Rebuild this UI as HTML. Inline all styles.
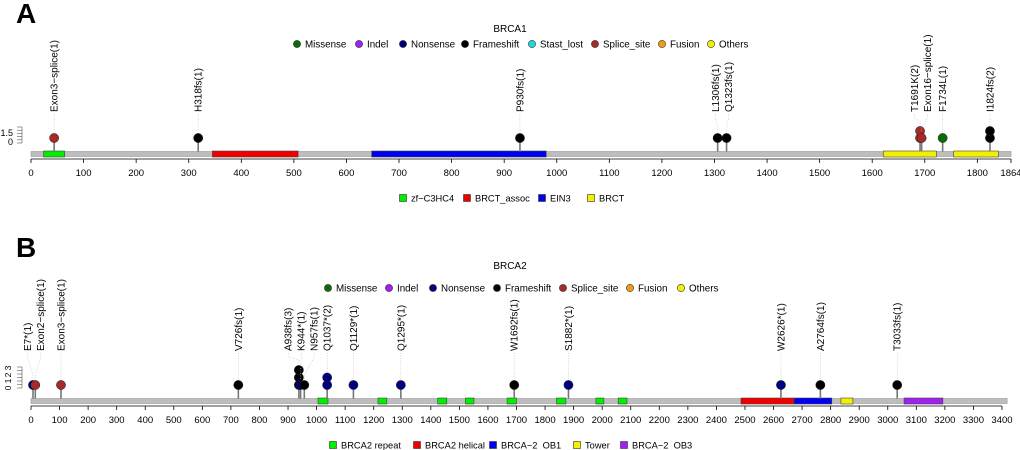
<!DOCTYPE html>
<html><head><meta charset="utf-8"><style>
html,body{margin:0;padding:0;background:#fff;}
svg{display:block;font-family:"Liberation Sans",Arial,sans-serif;}
</style></head><body>
<svg id="chart" width="1020" height="450" viewBox="0 0 1020 450"></svg>
<script>
// ---- Panel A data (BRCA1) ----
const aLength = 1864;
const aTicks = [0,100,200,300,400,500,600,700,800,900,1000,1100,1200,1300,1400,1500,1600,1700,1800,1864];
const aMutPos = [44,318,930,1306,1323,1691,1694,1734,1824];
const aMutCount = [1,1,1,1,1,2,1,1,2];
const aMutType = ["Splice_site","Frameshift","Frameshift","Frameshift","Frameshift","Splice_site","Splice_site","Missense","Frameshift"];
const aMutLabel = ["Exon3\u2212splice(1)","H318fs(1)","P930fs(1)","L1306fs(1)","Q1323fs(1)","T1691K(2)","Exon16\u2212splice(1)","F1734L(1)","I1824fs(2)"];
const aDomStart = [24,345,648,1621,1755];
const aDomEnd = [64,508,980,1722,1840];
const aDomName = ["zf-C3HC4","BRCT_assoc","EIN3","BRCT","BRCT"];
const aLegendTypes = ["Missense","Indel","Nonsense","Frameshift","Stast_lost","Splice_site","Fusion","Others"];
const aDomLegend = ["zf\u2212C3HC4","BRCT_assoc","EIN3","BRCT"];
// ---- Panel B data (BRCA2) ----
const bLength = 3418;
const bTicks = [0,100,200,300,400,500,600,700,800,900,1000,1100,1200,1300,1400,1500,1600,1700,1800,1900,2000,2100,2200,2300,2400,2500,2600,2700,2800,2900,3000,3100,3200,3300,3400];
const bMutPos = [7,15,105,726,938,944,957,1037,1129,1295,1692,1882,2626,2764,3033];
const bMutCount = [1,1,1,1,3,1,1,2,1,1,1,1,1,1,1];
const bMutType = ["Nonsense","Splice_site","Splice_site","Frameshift","Frameshift","Nonsense","Frameshift","Nonsense","Nonsense","Nonsense","Frameshift","Nonsense","Nonsense","Frameshift","Frameshift"];
const bMutLabel = ["E7*(1)","Exon2\u2212splice(1)","Exon3\u2212splice(1)","V726fs(1)","A938fs(3)","K944*(1)","N957fs(1)","Q1037*(2)","Q1129*(1)","Q1295*(1)","W1692fs(1)","S1882*(1)","W2626*(1)","A2764fs(1)","T3033fs(1)"];
const bDomStart = [1005,1215,1424,1521,1667,1840,1978,2056,2486,2672,2836,3057];
const bDomEnd = [1040,1246,1456,1551,1700,1873,2006,2087,2672,2804,2878,3193];
const bDomName = ["BRCA2 repeat","BRCA2 repeat","BRCA2 repeat","BRCA2 repeat","BRCA2 repeat","BRCA2 repeat","BRCA2 repeat","BRCA2 repeat","BRCA2 helical","BRCA-2_OB1","Tower","BRCA-2_OB3"];
const bLegendTypes = ["Missense","Indel","Nonsense","Frameshift","Splice_site","Fusion","Others"];
const bDomLegend = ["BRCA2 repeat","BRCA2 helical","BRCA\u22122_OB1","Tower","BRCA\u22122_OB3"];

const typeColor = {Missense:"#0b6b0b",Indel:"#a020f0",Nonsense:"#00007f",Frameshift:"#000000",Stast_lost:"#22d8d8",Splice_site:"#a52a2a",Fusion:"#f39c12",Others:"#f5f000"};
const domColor = {"zf-C3HC4":"#00ee00","BRCT_assoc":"#ee0000","EIN3":"#0000ee","BRCT":"#f0f000","BRCA2 repeat":"#00ee00","BRCA2 helical":"#ee0000","BRCA-2_OB1":"#0000ee","Tower":"#f0f000","BRCA-2_OB3":"#a020f0"};
const domLegColor = ["#00ee00","#ee0000","#0000ee","#f0f000","#a020f0"];

const NS="http://www.w3.org/2000/svg";
const svg=document.getElementById('chart');
function mk(tag,attrs,parent,text){const e=document.createElementNS(NS,tag);for(const k in attrs)e.setAttribute(k,attrs[k]);if(text!==undefined)e.textContent=text;(parent||svg).appendChild(e);return e;}

function drawPanel(o){
  const g=mk('g',{});
  
  
  const x=v=>o.x0+(v/o.tickMax)*(o.x1-o.x0);
  const L=mk('text',{x:16,y:o.letterY,'font-size':28,'font-weight':'bold'},g,o.letter);
  
  
  const t=mk('text',{x:510,y:o.titleY,'font-size':10,'text-anchor':'middle'},g,o.title);
  
  
  o.legendTypes.forEach((ty,i)=>{
    const lg=mk('g',{},g);
    
    
    mk('circle',{cx:o.legendX[i],cy:o.legendY,r:3.6,fill:typeColor[ty],stroke:'#333','stroke-width':0.6},lg);
    mk('text',{x:o.legendX[i]+8,y:o.legendY+3.5,'font-size':9.8},lg,ty);
  });
  const bb=mk('rect',{x:x(0),y:o.bbY-2.5,width:x(o.length)-x(0),height:5,fill:'#bdbdbd',stroke:'#999','stroke-width':0.6},g);
  
  
  const ay=o.bbY+5;
  mk('line',{x1:x(0),x2:x(o.ticks[o.ticks.length-1]),y1:ay,y2:ay,stroke:'#000','stroke-width':0.8},g);
  o.ticks.forEach(v=>{
    mk('line',{x1:x(v),x2:x(v),y1:ay,y2:ay+4,stroke:'#000','stroke-width':0.8},g);
    const tl=mk('text',{x:x(v),y:ay+17,'font-size':9.5,'text-anchor':'middle'},g,String(v));
    
    
  });
  o.domStart.forEach((s,i)=>{
    const d=mk('rect',{x:x(s),y:o.bbY-3,width:x(o.domEnd[i])-x(s),height:6,fill:domColor[o.domName[i]],stroke:'#444','stroke-width':0.6},g);
    
    
  });
  for(let k=0;k<=o.ladderN;k++){const yy=o.ladderTop+k*(o.ladderBot-o.ladderTop)/o.ladderN;mk('line',{x1:17,x2:22,y1:yy,y2:yy,stroke:'#555','stroke-width':0.6},g);}
  mk('line',{x1:22,x2:22,y1:o.ladderTop,y2:o.ladderBot,stroke:'#555','stroke-width':0.6},g);
  o.yLabels.forEach(l=>{
    if(o.rotY) mk('text',{x:l[0],y:l[1],'font-size':8.5,'text-anchor':'middle',transform:`rotate(-90 ${l[0]} ${l[1]})`},g,l[2]);
    else mk('text',{x:l[0],y:l[1],'font-size':9,'text-anchor':'end'},g,l[2]);
  });
  const px=o.mutPos.map(p=>x(p));
  const lx=px.slice();const gap=13;
  for(let it=0;it<200;it++){for(let i=1;i<lx.length;i++){const d=lx[i]-lx[i-1];if(d<gap){const s=(gap-d)/2;lx[i-1]-=s;lx[i]+=s;}}}
  o.mutPos.forEach((p,i)=>{
    const mg=mk('g',{},g);
    
    
    const topY=o.headY-(o.mutCount[i]-1)*o.stackDy;
    mk('line',{x1:px[i],x2:px[i],y1:o.bbY-2.5,y2:o.headY,stroke:'#777','stroke-width':1.6},mg);
    mk('polyline',{points:`${lx[i]},${o.labelY+2} ${lx[i]},${o.labelY+6} ${px[i]},${topY-10} ${px[i]},${topY-6}`,fill:'none',stroke:'#bbb','stroke-width':0.6,'stroke-dasharray':'1,1.5'},mg);
    for(let k=0;k<o.mutCount[i];k++){
      mk('circle',{cx:px[i],cy:o.headY-k*o.stackDy,r:4.6,fill:typeColor[o.mutType[i]],stroke:'#222','stroke-width':0.5},mg);
    }
    const tx=mk('text',{x:lx[i]+3.5,y:o.labelY,'font-size':10,transform:`rotate(-90 ${lx[i]+3.5} ${o.labelY})`},mg,o.mutLabel[i]);
    
    
  });
  o.domLegend.forEach((n,i)=>{
    const lg=mk('g',{},g);
    
    
    mk('rect',{x:o.domLegX[i]-3.5,y:o.domLegY-3.5,width:7,height:7,fill:domLegColor[i],stroke:'#333','stroke-width':0.6},lg);
    mk('text',{x:o.domLegX[i]+8,y:o.domLegY+3.5,'font-size':9.3},lg,n);
  });
}
drawPanel({id:'brca1',letter:'A',letterY:23,title:'BRCA1',titleY:32,x0:31,x1:1011,tickMax:1864,length:aLength,ticks:aTicks,
  mutPos:aMutPos,mutCount:aMutCount,mutType:aMutType,mutLabel:aMutLabel,domStart:aDomStart,domEnd:aDomEnd,domName:aDomName,
  legendTypes:aLegendTypes,legendX:[297,359,403,465,532,595,662,711],legendY:44,bbY:154,headY:138,stackDy:7,labelY:112,
  ladderTop:127,ladderBot:143,ladderN:5,yLabels:[[13,136,'1.5'],[13,145,'0']],
  domLegend:aDomLegend,domLegX:[403,467,542,591],domLegY:198});
drawPanel({id:'brca2',letter:'B',letterY:257,title:'BRCA2',titleY:269,x0:31,x1:1002,tickMax:3400,length:bLength,ticks:bTicks,
  mutPos:bMutPos,mutCount:bMutCount,mutType:bMutType,mutLabel:bMutLabel,domStart:bDomStart,domEnd:bDomEnd,domName:bDomName,
  legendTypes:bLegendTypes,legendX:[328,389,433,497,563,630,681],legendY:288,bbY:401,headY:385,stackDy:7.5,labelY:351,
  ladderTop:367,ladderBot:388,ladderN:6,rotY:true,yLabels:[[11,388,'0'],[11,381,'1'],[11,375,'2'],[11,368,'3']],
  domLegend:bDomLegend,domLegX:[333,417,493,577,624],domLegY:445});
</script>
</body></html>
